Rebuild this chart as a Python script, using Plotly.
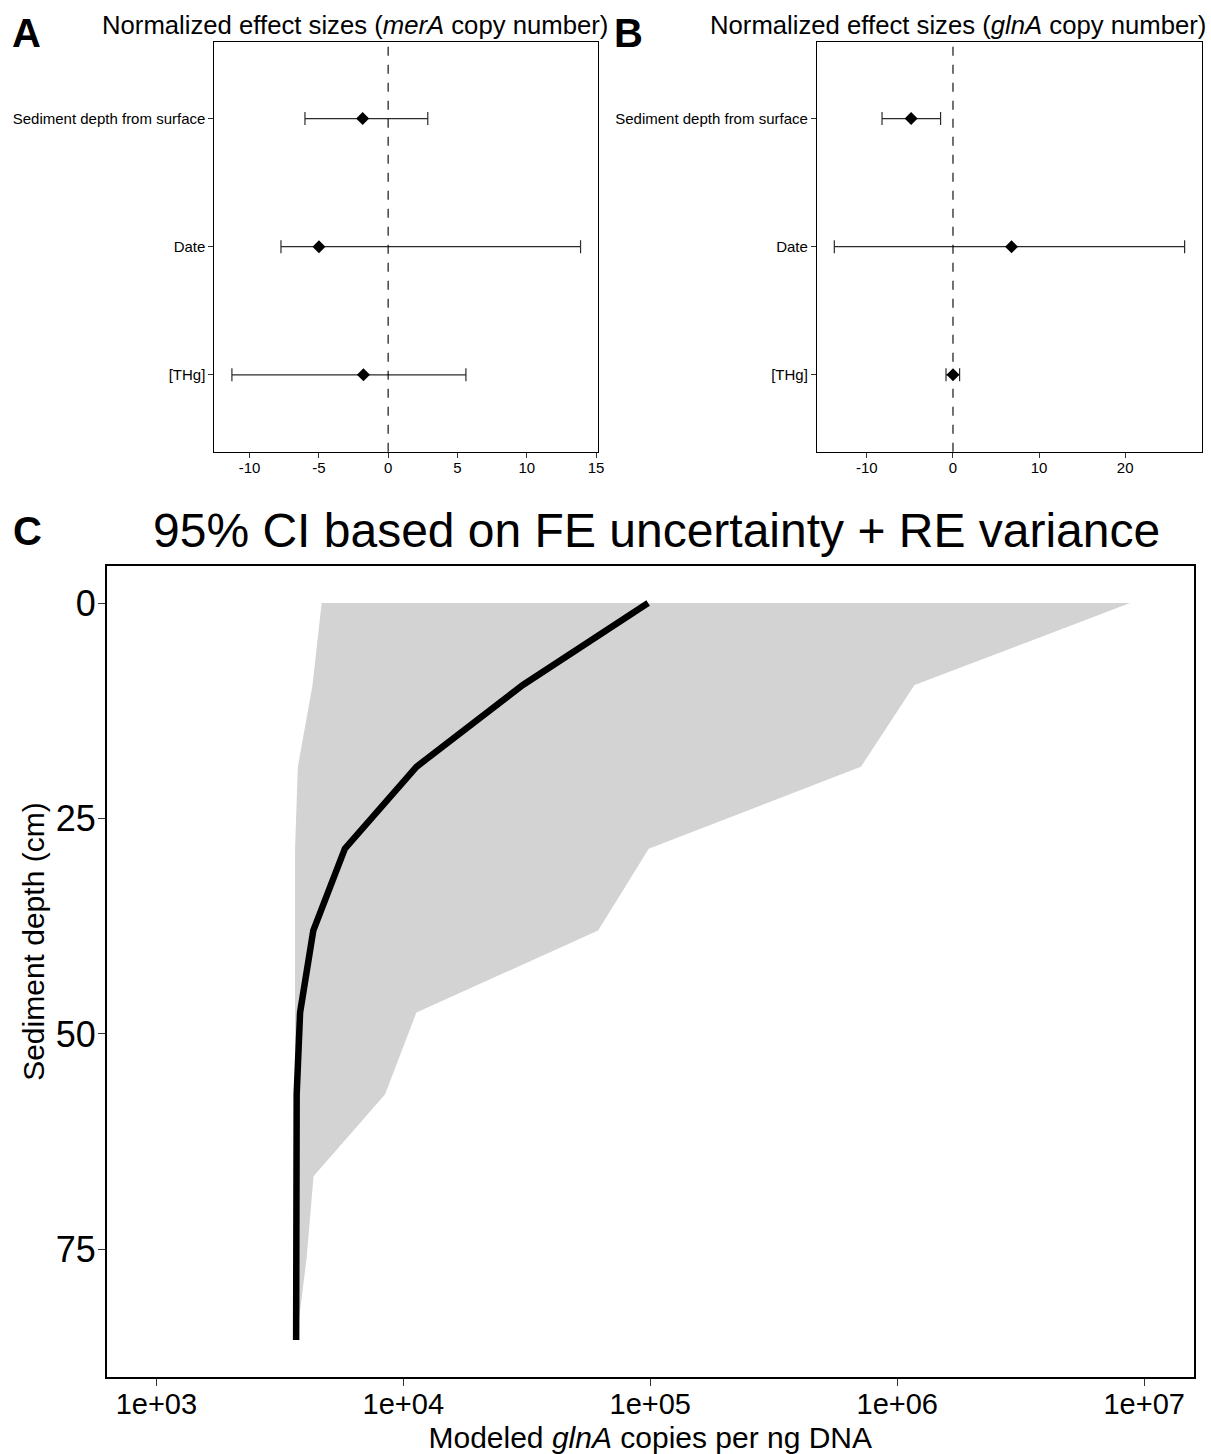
import plotly.graph_objects as go

W, H = 1211, 1454

# ---------------- data ----------------
predictors = ["[THg]", "Date", "Sediment depth from surface"]

merA_est = [-1.78, -4.99, -1.84]
merA_lo = [-11.27, -7.73, -6.00]
merA_hi = [5.61, 13.88, 2.86]

glnA_est = [0.0, 6.80, -4.86]
glnA_lo = [-0.81, -13.78, -8.24]
glnA_hi = [0.77, 26.90, -1.44]

x_ticks_A = [-10, -5, 0, 5, 10, 15]
x_ticks_B = [-10, 0, 10, 20]

depth_cm = [0, 9.5, 19, 28.5, 38, 47.5, 57, 66.5, 76, 85.5]
glnA_mean = [98000, 30500, 11300, 5800, 4320, 3820, 3700, 3690, 3685, 3681]
glnA_lower = [4670, 4290, 3740, 3645, 3640, 3640, 3640, 3640, 3640, 3640]
glnA_upper = [8770000, 1175000, 713000, 98600, 61500, 11300, 8440, 4330, 4060, 3690]

x_ticks_C = [1e3, 1e4, 1e5, 1e6, 1e7]
x_ticklabels_C = ["1e+03", "1e+04", "1e+05", "1e+06", "1e+07"]
y_ticks_C = [0, 25, 50, 75]

FONT = "Liberation Sans, Arial, sans-serif"


def px(x):
    return x / W


def py(y):
    return 1 - y / H


fig = go.Figure()

# ---------------- panels A and B ----------------
for est, lo, hi, xa, ya in [
    (merA_est, merA_lo, merA_hi, "x", "y"),
    (glnA_est, glnA_lo, glnA_hi, "x2", "y2"),
]:
    plus = [h - e for h, e in zip(hi, est)]
    minus = [e - l for e, l in zip(est, lo)]
    fig.add_trace(go.Scatter(
        x=est, y=predictors, mode="markers",
        marker=dict(symbol="diamond", size=10, color="black"),
        error_x=dict(type="data", array=plus, arrayminus=minus,
                     color="#2b2b2b", thickness=1.2, width=6.5),
        xaxis=xa, yaxis=ya, showlegend=False, hoverinfo="skip",
    ))

# ---------------- panel C ----------------
fig.add_trace(go.Scatter(
    x=glnA_upper + glnA_lower[::-1],
    y=depth_cm + depth_cm[::-1],
    fill="toself", fillcolor="#D3D3D3", mode="lines",
    line=dict(width=0, color="#D3D3D3"),
    xaxis="x3", yaxis="y3", showlegend=False, hoverinfo="skip",
))
fig.add_trace(go.Scatter(
    x=glnA_mean, y=depth_cm, mode="lines",
    line=dict(color="black", width=6.5),
    xaxis="x3", yaxis="y3", showlegend=False, hoverinfo="skip",
))

# dashed zero lines
for xr, yr in [("x", "y domain"), ("x2", "y2 domain")]:
    fig.add_shape(type="line", xref=xr, yref=yr, x0=0, x1=0, y0=0, y1=1,
                  line=dict(color="black", width=1.1, dash="dash"), layer="above")

A_top, A_bot = 41.7, 451.7
axis_common = dict(showline=True, mirror=True, linecolor="black", showgrid=False,
                   zeroline=False, ticks="outside", tickcolor="#333333")

fig.update_layout(
    width=W, height=H,
    margin=dict(l=0, r=0, t=0, b=0),
    paper_bgcolor="white", plot_bgcolor="white",
    font=dict(family=FONT, color="black"),
    xaxis=dict(domain=[px(215.5), px(601)], range=[-12.53, 15.14],
               tickvals=x_ticks_A, ticktext=[str(v) for v in x_ticks_A],
               ticklen=5, linewidth=1.2, ticklabelstandoff=-3,
               tickfont=dict(size=15, color="black"), anchor="y", **axis_common),
    yaxis=dict(domain=[py(A_bot), py(A_top)], type="category",
               categoryorder="array", categoryarray=predictors,
               range=[-0.6, 2.6], ticklen=5, linewidth=1.2,
               tickfont=dict(size=15, color="black"), anchor="x", **axis_common),
    xaxis2=dict(domain=[px(821), px(1208)], range=[-15.8, 28.92],
                tickvals=x_ticks_B, ticktext=[str(v) for v in x_ticks_B],
                ticklen=5, linewidth=1.2, ticklabelstandoff=-3,
                tickfont=dict(size=15, color="black"), anchor="y2", **axis_common),
    yaxis2=dict(domain=[py(A_bot), py(A_top)], type="category",
                categoryorder="array", categoryarray=predictors,
                range=[-0.6, 2.6], ticklen=5, linewidth=1.2,
                tickfont=dict(size=15, color="black"), anchor="x2", **axis_common),
    xaxis3=dict(domain=[px(107.5), px(1199.5)], type="log", range=[2.8, 7.2],
                tickvals=x_ticks_C, ticktext=x_ticklabels_C, ticklen=7, linewidth=2,
                ticklabelstandoff=-7,
                tickfont=dict(size=29, color="black"), anchor="y3",
                title=dict(text="Modeled <i>glnA</i> copies per ng DNA",
                           font=dict(size=30, color="black"), standoff=12),
                **axis_common),
    yaxis3=dict(domain=[py(1377), py(566)], range=[89.8, -4.3],
                tickvals=y_ticks_C, ticklen=7, linewidth=2, ticklabelstandoff=-5,
                tickfont=dict(size=36, color="black"), anchor="x3", **axis_common),
)

ann = []
# panel letters
for lbl, x, y in [("A", 10, 33.5), ("B", 615, 33.5), ("C", 11, 531)]:
    ann.append(dict(text=f"<b>{lbl}</b>", x=px(x), y=py(y), xref="paper", yref="paper",
                    xanchor="left", yanchor="middle", showarrow=False,
                    font=dict(size=40, family=FONT, color="black")))
# titles
ann.append(dict(text="Normalized effect sizes (<i>merA</i> copy number)",
                x=px(101), y=py(25), xref="paper", yref="paper",
                xanchor="left", yanchor="middle", showarrow=False,
                font=dict(size=25.7, family=FONT, color="black")))
ann.append(dict(text="Normalized effect sizes (<i>glnA</i> copy number)",
                x=px(712), y=py(25), xref="paper", yref="paper",
                xanchor="left", yanchor="middle", showarrow=False,
                font=dict(size=25.7, family=FONT, color="black")))
ann.append(dict(text="95% CI based on FE uncertainty + RE variance",
                x=px(152), y=py(531), xref="paper", yref="paper",
                xanchor="left", yanchor="middle", showarrow=False,
                font=dict(size=48, family=FONT, color="black")))
ann.append(dict(text="Sediment depth (cm)", textangle=-90,
                x=px(33), y=py(942), xref="paper", yref="paper",
                xanchor="center", yanchor="middle", showarrow=False,
                font=dict(size=30, family=FONT, color="black")))
fig.update_layout(annotations=ann)

fig.write_html("out.html")
